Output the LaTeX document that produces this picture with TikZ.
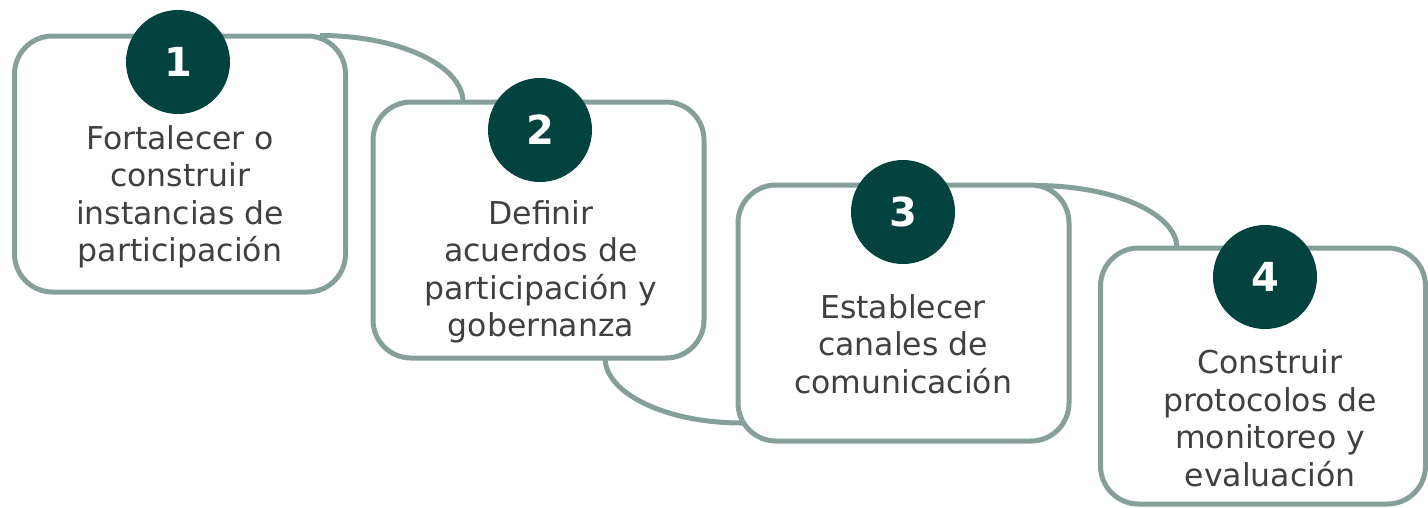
\documentclass[tikz,border=0pt]{standalone}
\usepackage{fontspec}
\usetikzlibrary{calc}
\setmainfont{DejaVu Sans}
\definecolor{edgec}{HTML}{85A09A}
\definecolor{darkteal}{HTML}{03433F}
\definecolor{txt}{HTML}{404040}
\tikzset{
  stepbox/.style={draw=edgec, line width=5pt, fill=white, rounded corners=38pt, minimum width=331pt, minimum height=256pt, inner sep=0pt},
  numdot/.style={circle, fill=darkteal, minimum size=104pt, inner sep=0pt, text=white, font=\fontsize{40}{46}\selectfont\bfseries},
  steptext/.style={align=center, text=txt, font=\fontsize{31.5}{37.5}\selectfont},
  link/.style={draw=edgec, line width=5pt}
}
\begin{document}
\begin{tikzpicture}[x=1pt,y=-1pt]
\useasboundingbox (0,0) rectangle (1428,507);
\node[stepbox] (b1) at (180,164) {};
\node[stepbox] (b2) at (538.5,230) {};
\node[stepbox] (b3) at (903.5,313) {};
\node[stepbox, minimum width=325pt] (b4) at (1263,376) {};
% connectors
\coordinate (c1s) at (320,35.5);
\coordinate (c1e) at (463,102);
\coordinate (c2s) at (605,357.5);
\coordinate (c2e) at (742,423);
\coordinate (c3s) at (1035,185.5);
\coordinate (c3e) at (1177,248);
\draw[link] (c1s) .. controls ($(c1s)+(80,0)$) and ($(c1e)+(0,-36)$) .. (c1e);
\draw[link] (c2s) .. controls ($(c2s)+(0,36)$) and ($(c2e)+(-76,0)$) .. (c2e);
\draw[link] (c3s) .. controls ($(c3s)+(80,0)$) and ($(c3e)+(0,-34)$) .. (c3e);
% numbers
\node[numdot] (n1) at (178,62) {1};
\node[numdot] (n2) at (540,130) {2};
\node[numdot] (n3) at (903,212) {3};
\node[numdot] (n4) at (1265,277) {4};
% texts
\node[steptext] (t1) at (180,197) {Fortalecer o\\construir\\instancias de\\participación};
\node[steptext] (t2) at (541,272) {Definir\\acuerdos de\\participación y\\gobernanza};
\node[steptext] (t3) at (903,344) {Establecer\\canales de\\comunicación};
\node[steptext] (t4) at (1270,418) {Construir\\protocolos de\\monitoreo y\\evaluación};
\end{tikzpicture}
\end{document}
